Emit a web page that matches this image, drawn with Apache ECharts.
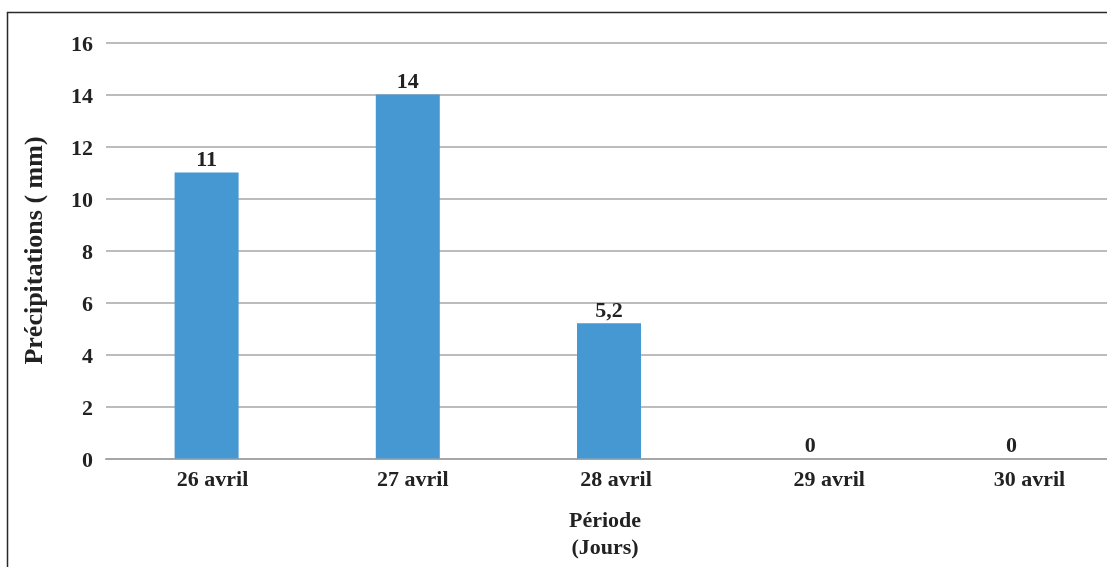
<!DOCTYPE html>
<html>
<head>
<meta charset="utf-8">
<script src="https://cdn.jsdelivr.net/npm/echarts@6/dist/echarts.min.js"></script>
<style>
  html, body { margin: 0; padding: 0; background: #fff; overflow: hidden; }
  #chart { width: 1112px; height: 567px; }
</style>
</head>
<body>
<div id="chart"></div>
<script>
// Daily rainfall, 26–30 April
const days = ['26 avril', '27 avril', '28 avril', '29 avril', '30 avril'];
const rainfall = [11, 14, 5.2, 0, 0];
const yTicks = { min: 0, max: 16, interval: 2 };

const FONT = '"Liberation Serif", "Times New Roman", serif';
// horizontal nudge (px) of each day label under its column
const dayLabelNudge = [6, 5, 7, 19, 18];

const textBase = { fontFamily: FONT, fontWeight: 'bold', fontSize: 22, color: '#222' };

const dayRich = {};
dayLabelNudge.forEach((n, i) => {
  dayRich['d' + i] = Object.assign({}, textBase, { padding: [0, 0, 0, n * 2] });
});

const chart = echarts.init(document.getElementById('chart'), null, { renderer: 'canvas' });

chart.setOption({
  animation: false,
  backgroundColor: '#ffffff',
  grid: { left: 106, right: 0, top: 42.5, bottom: 108.5 },
  graphic: [{
    type: 'rect',
    shape: { x: 7.5, y: 12.5, width: 1120, height: 580 },
    style: { fill: 'none', stroke: '#2a2a2a', lineWidth: 1.5 },
    silent: true
  }],
  xAxis: {
    type: 'category',
    data: days,
    name: 'Période\n(Jours)',
    nameLocation: 'middle',
    nameGap: 49,
    nameTextStyle: Object.assign({}, textBase, { lineHeight: 27, verticalAlign: 'top', padding: [0, 8, 0, 0] }),
    axisLine: { show: true, lineStyle: { color: '#a6a6a6', width: 2 } },
    axisTick: { show: false },
    axisLabel: Object.assign({}, textBase, {
      margin: 11,
      formatter: (v, i) => '{d' + i + '|' + v + '}',
      rich: dayRich
    })
  },
  yAxis: {
    type: 'value',
    min: yTicks.min,
    max: yTicks.max,
    interval: yTicks.interval,
    name: 'Précipitations ( mm)',
    nameLocation: 'middle',
    nameRotate: 90,
    nameGap: 58,
    nameTextStyle: Object.assign({}, textBase, { fontSize: 26 }),
    axisLine: { show: false },
    axisTick: { show: false },
    axisLabel: Object.assign({}, textBase, {
      margin: 13,
      formatter: v => '{t|' + v + '}',
      rich: { t: Object.assign({}, textBase, { padding: [5, 0, 0, 0] }) }
    }),
    splitLine: { lineStyle: { color: '#a6a6a6', width: 1.5 } }
  },
  series: [{
    type: 'bar',
    data: rainfall,
    barWidth: 64,
    itemStyle: { color: '#4698d2' },
    label: Object.assign({}, textBase, {
      show: true,
      position: 'top',
      distance: 1,
      formatter: p => String(p.value).replace('.', ',')
    })
  }]
});
</script>
</body>
</html>
